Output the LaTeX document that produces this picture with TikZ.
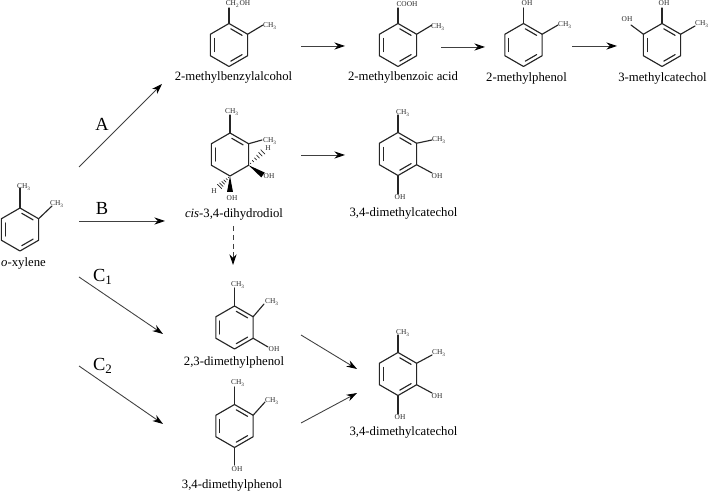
\documentclass[tikz,border=0pt]{standalone}
\usepackage{fontspec}
\setmainfont{Liberation Serif}
\usetikzlibrary{positioning, arrows.meta, calc}

% ring with corners t, ur, lr, b, ll, ul and two of its inner bonds
\newcommand{\innerbond}[3]{
  \draw[bond] ($($(#1)!0.8!(#2)$)!0.12!($(#1)!0.8!(#3)$)$) -- ($($(#1)!0.8!(#3)$)!0.12!($(#1)!0.8!(#2)$)$);
}
\newcommand{\hexring}[2]{
  \coordinate (#1) at (#2);
  \foreach \ang/\corner in {-90/t, -30/ur, 30/lr, 90/b, 150/ll, 210/ul}
    \coordinate (#1\corner) at ($(#1)+(\ang:21.5)$);
  \draw[bond] (#1t) -- (#1ur) -- (#1lr) -- (#1b) -- (#1ll) -- (#1ul) -- cycle;
  \innerbond{#1}{#1t}{#1ur}
  \innerbond{#1}{#1ll}{#1ul}
}
% corner, name of the free end, its place, place of the text, text
\newcommand{\subst}[5]{
  \coordinate (#2) at (#3);
  \node[subtext] (#2text) at (#4) {#5};
  \draw[bond] (#1) -- (#2);
}
\newcommand{\hashed}[3]{
  \coordinate (#2) at (#3);
  \foreach \t in {0.12,0.27,...,1.0}
    \draw[bond, line width=0.4pt] ($(#1)!\t!(#2)!{\t*0.07cm}!90:(#2)$) -- ($(#1)!\t!(#2)!{\t*0.07cm}!-90:(#2)$);
}
\newcommand{\wedged}[3]{
  \coordinate (#2) at (#3);
  \fill (#1) -- ($(#2)!1.7pt!90:(#1)$) -- ($(#2)!1.7pt!-90:(#1)$) -- cycle;
}

\begin{document}
\begin{tikzpicture}[
    x=0.02cm, y=-0.02cm,
    bond/.style={line width=0.65pt, line join=round, line cap=round, black!85},
    rxn/.style={line width=0.5pt, black!75, -{Stealth[length=6pt, width=4pt, black]}},
    chemname/.style={font=\fontsize{7.25}{9}\selectfont, inner sep=0pt},
    subtext/.style={font=\fontsize{4.2}{5}\selectfont, inner sep=0pt, text=black!85},
    routeletter/.style={font=\fontsize{10.5}{12}\selectfont, inner sep=0pt}
]
\useasboundingbox (0,0) rectangle (709,492);

% o-xylene
\hexring{xyl}{20,229.5}
\innerbond{xyl}{xyllr}{xylb}
\subst{xylt}{xylmea}{20,188}{24,187}{CH\textsubscript{3}}
\subst{xylur}{xylmeb}{52,206}{57,204}{CH\textsubscript{3}}
\node[chemname] (xyllabel) at (23.5,263) {\textit{o}-xylene};

% Route A
\hexring{alc}{229,45}
\innerbond{alc}{alclr}{alcb}
\subst{alct}{alcoh}{229,8}{238,4}{CH\textsubscript{2}OH}
\subst{alcur}{alcme}{263,25}{270,26}{CH\textsubscript{3}}
\node[chemname] (alclabel) at (233.5,77) {2-methylbenzylalcohol};

\hexring{acid}{398,45}
\innerbond{acid}{acidlr}{acidb}
\subst{acidt}{acidco}{398,8}{407,4}{COOH}
\subst{acidur}{acidme}{432,25}{438,27}{CH\textsubscript{3}}
\node[chemname] (acidlabel) at (403,77) {2-methylbenzoic acid};

\hexring{phen}{523.5,45}
\innerbond{phen}{phenlr}{phenb}
\subst{phent}{phenoh}{523.5,8}{527,3.5}{OH}
\subst{phenur}{phenme}{558,25}{565,25}{CH\textsubscript{3}}
\node[chemname] (phenlabel) at (526.5,78) {2-methylphenol};

\hexring{cat}{662,45}
\innerbond{cat}{catlr}{catb}
\subst{catt}{catoha}{662,8}{664,3.5}{OH}
\subst{catul}{catohb}{631,25}{627,19}{OH}
\subst{catur}{catme}{695,26}{702,24}{CH\textsubscript{3}}
\node[chemname] (catlabel) at (662.5,78) {3-methylcatechol};

% Route B
\hexring{diol}{230,154.5}
\subst{diolt}{diolmea}{230,115}{232,112}{CH\textsubscript{3}}
\subst{diolur}{diolmeb}{262,140}{270,141}{CH\textsubscript{3}}
\hashed{diollr}{diolha}{265,150}
\wedged{diollr}{diolwa}{263,175}
\hashed{diolb}{diolhb}{218,188}
\wedged{diolb}{diolwb}{230,192}
\node[subtext] (diolhatext) at (268,148) {H};
\node[subtext] (diololatext) at (269,176) {OH};
\node[subtext] (diolhbtext) at (214,191) {H};
\node[subtext] (diololbtext) at (232,198) {OH};
\node[chemname] (diollabel) at (234,214) {\textit{cis}-3,4-dihydrodiol};

\hexring{dmca}{398,154}
\innerbond{dmca}{dmcalr}{dmcab}
\subst{dmcat}{dmcamea}{398,115}{403,113}{CH\textsubscript{3}}
\subst{dmcaur}{dmcameb}{432,140}{439,140}{CH\textsubscript{3}}
\subst{dmcalr}{dmcaoha}{432,173}{437,176}{OH}
\subst{dmcab}{dmcaohb}{398,194}{400,197}{OH}
\node[chemname] (dmcalabel) at (403.5,213) {3,4-dimethylcatechol};

% Route C
\hexring{xa}{234.5,327.5}
\innerbond{xa}{xalr}{xab}
\subst{xat}{xamea}{234.5,288}{238,285}{CH\textsubscript{3}}
\subst{xaur}{xameb}{264,304}{272,302}{CH\textsubscript{3}}
\subst{xalr}{xaoh}{268,347}{274,349}{OH}
\node[chemname] (xalabel) at (234,362) {2,3-dimethylphenol};

\hexring{xb}{234.5,426}
\innerbond{xb}{xblr}{xbb}
\subst{xbt}{xbmea}{234.5,387}{238,383}{CH\textsubscript{3}}
\subst{xbur}{xbmeb}{265,402}{272,401}{CH\textsubscript{3}}
\subst{xbb}{xboh}{234.5,465}{237,469}{OH}
\node[chemname] (xblabel) at (232,485) {3,4-dimethylphenol};

\hexring{dmcb}{398,374}
\innerbond{dmcb}{dmcblr}{dmcbb}
\subst{dmcbt}{dmcbmea}{398,335}{403,333}{CH\textsubscript{3}}
\subst{dmcbur}{dmcbmeb}{432,355}{439,353}{CH\textsubscript{3}}
\subst{dmcblr}{dmcboha}{432,393}{437,396}{OH}
\subst{dmcbb}{dmcbohb}{398,414}{400,417}{OH}
\node[chemname] (dmcblabel) at (403.5,432) {3,4-dimethylcatechol};

% Route letters
\node[routeletter] (routea) at (102,124) {A};
\node[routeletter] (routeb) at (102,208) {B};
\node[routeletter] (routeca) at (103,277) {C\textsubscript{1}};
\node[routeletter] (routecb) at (103,366) {C\textsubscript{2}};

% Arrow ends
\coordinate (aout) at (79,167);   \coordinate (ain) at (162,84);
\coordinate (bout) at (79,221);   \coordinate (bin) at (165,221);
\coordinate (caout) at (79,277);  \coordinate (cain) at (163,334);
\coordinate (cbout) at (79,366);  \coordinate (cbin) at (163,424);
\coordinate (alcout) at (301,46); \coordinate (acidin) at (345,46);
\coordinate (acidout) at (441,47); \coordinate (phenin) at (485,47);
\coordinate (phenout) at (572,46); \coordinate (catin) at (617,46);
\coordinate (diolout) at (301,155); \coordinate (dmcain) at (345,155);
\coordinate (dioldown) at (233,226); \coordinate (xain) at (233,265);
\coordinate (xaout) at (301,335); \coordinate (dmcbina) at (357,369);
\coordinate (xbout) at (301,423); \coordinate (dmcbinb) at (357,393);

\draw[rxn] (aout) -- (ain);
\draw[rxn] (bout) -- (bin);
\draw[rxn] (caout) -- (cain);
\draw[rxn] (cbout) -- (cbin);
\draw[rxn] (alcout) -- (acidin);
\draw[rxn] (acidout) -- (phenin);
\draw[rxn] (phenout) -- (catin);
\draw[rxn] (diolout) -- (dmcain);
\draw[rxn, densely dashed] (dioldown) -- (xain);
\draw[rxn] (xaout) -- (dmcbina);
\draw[rxn] (xbout) -- (dmcbinb);

\end{tikzpicture}
\end{document}
